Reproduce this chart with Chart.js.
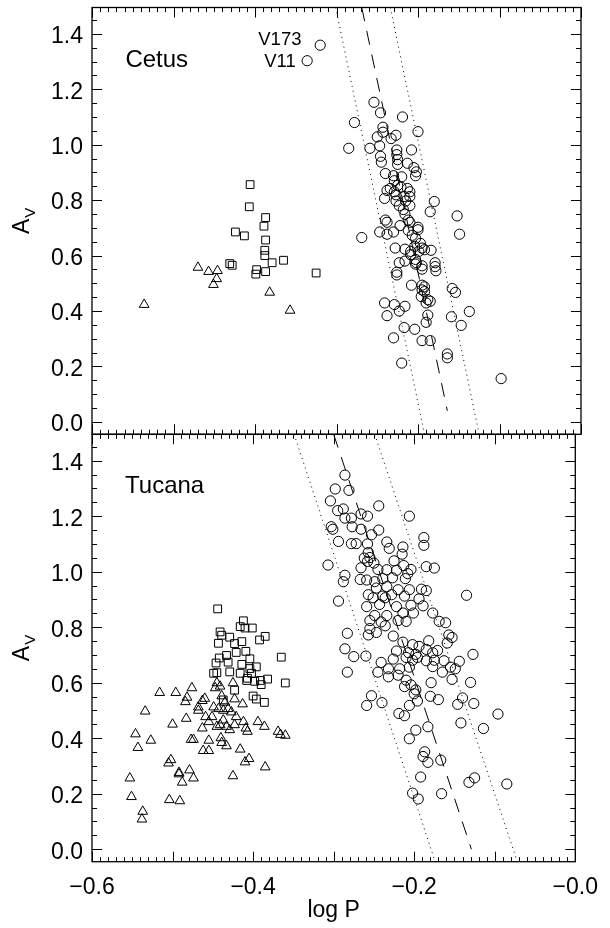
<!DOCTYPE html>
<html>
<head>
<meta charset="utf-8">
<title>Bailey diagram - Cetus / Tucana</title>
<script src="https://cdn.jsdelivr.net/npm/chart.js@4.4.1/dist/chart.umd.min.js"></script>
<style>
  html, body { margin: 0; padding: 0; background: #fff; }
  #wrap { position: relative; width: 610px; height: 928px; }
  #wrap canvas { position: absolute; left: 0; top: 0; }
</style>
</head>
<body>
<div id="wrap">
  <canvas id="cetusChart" width="610" height="928"></canvas>
  <canvas id="tucanaChart" width="610" height="928"></canvas>
</div>
<script>
// Period-amplitude (Bailey) diagrams, two stacked panels sharing log P

const xTickValues = [-0.6, -0.4, -0.2, 0.0];
const yTickValues = [0.0, 0.2, 0.4, 0.6, 0.8, 1.0, 1.2, 1.4];

// Cetus: [log P, A_V]
const rrabCetus = [
    [-0.320, 1.359], [-0.336, 1.303],
    [-0.254, 1.153], [-0.246, 1.115], [-0.278, 1.080], [-0.219, 1.100], [-0.200, 1.047],
    [-0.285, 0.987], [-0.259, 0.987], [-0.247, 0.996], [-0.243, 1.063], [-0.243, 1.045],
    [-0.250, 1.028], [-0.233, 1.022], [-0.227, 1.034], [-0.246, 0.958], [-0.245, 0.937],
    [-0.226, 0.981], [-0.226, 0.964], [-0.225, 0.946], [-0.225, 0.929], [-0.208, 0.981],
    [-0.213, 0.933], [-0.205, 0.917], [-0.203, 0.888], [-0.202, 0.902], [-0.240, 0.896],
    [-0.230, 0.888], [-0.229, 0.870], [-0.220, 0.884], [-0.225, 0.853], [-0.221, 0.847],
    [-0.238, 0.835], [-0.234, 0.842], [-0.229, 0.830], [-0.213, 0.842], [-0.210, 0.830],
    [-0.227, 0.819], [-0.217, 0.813], [-0.210, 0.813], [-0.241, 0.806], [-0.227, 0.797],
    [-0.215, 0.797], [-0.180, 0.795], [-0.185, 0.758], [-0.152, 0.743], [-0.223, 0.780],
    [-0.218, 0.766], [-0.210, 0.780], [-0.216, 0.749],
    [-0.240, 0.728], [-0.238, 0.720], [-0.212, 0.728], [-0.210, 0.720], [-0.222, 0.708],
    [-0.200, 0.702], [-0.200, 0.693], [-0.269, 0.665], [-0.247, 0.685], [-0.238, 0.677],
    [-0.230, 0.685], [-0.212, 0.691], [-0.207, 0.673], [-0.203, 0.662], [-0.197, 0.644],
    [-0.204, 0.633], [-0.195, 0.627], [-0.199, 0.615], [-0.192, 0.621], [-0.184, 0.619],
    [-0.149, 0.677], [-0.228, 0.627], [-0.216, 0.623], [-0.209, 0.615], [-0.209, 0.603],
    [-0.223, 0.574], [-0.216, 0.580], [-0.203, 0.586], [-0.203, 0.569], [-0.202, 0.574],
    [-0.195, 0.563], [-0.195, 0.551], [-0.226, 0.540], [-0.226, 0.530], [-0.179, 0.574],
    [-0.179, 0.560], [-0.178, 0.545], [-0.208, 0.493], [-0.195, 0.493], [-0.192, 0.487],
    [-0.195, 0.476], [-0.192, 0.470], [-0.196, 0.452], [-0.188, 0.441], [-0.185, 0.435],
    [-0.190, 0.429], [-0.158, 0.481], [-0.154, 0.467], [-0.241, 0.429], [-0.229, 0.423],
    [-0.216, 0.417], [-0.223, 0.400], [-0.238, 0.383], [-0.188, 0.385], [-0.159, 0.379],
    [-0.137, 0.398], [-0.147, 0.348], [-0.217, 0.340], [-0.204, 0.334], [-0.190, 0.359],
    [-0.230, 0.303], [-0.195, 0.293], [-0.185, 0.293], [-0.164, 0.245], [-0.164, 0.231],
    [-0.220, 0.212], [-0.098, 0.156]
];
const rrdCetus = [
    [-0.406, 0.856], [-0.407, 0.776], [-0.387, 0.737], [-0.424, 0.685], [-0.413, 0.671],
    [-0.389, 0.706], [-0.387, 0.656], [-0.388, 0.619], [-0.388, 0.600], [-0.431, 0.571],
    [-0.428, 0.565], [-0.398, 0.549], [-0.399, 0.533], [-0.387, 0.542], [-0.379, 0.574],
    [-0.365, 0.583], [-0.325, 0.537]
];
const rrcCetus = [
    [-0.536, 0.423], [-0.470, 0.557], [-0.457, 0.542], [-0.446, 0.545], [-0.447, 0.516],
    [-0.451, 0.495], [-0.382, 0.467], [-0.357, 0.402]
];
// fitted relation and its +/- band, given by end points
const cetusFit = [[-0.269, 1.495], [-0.164, 0.040]];
const cetusFitLo = [[-0.301, 1.495], [-0.192, -0.045]];
const cetusFitHi = [[-0.234, 1.495], [-0.125, -0.045]];

// Tucana: [log P, A_V]
const rrabTucana = [
    [-0.286, 1.348], [-0.298, 1.298], [-0.281, 1.293], [-0.304, 1.255], [-0.244, 1.237],
    [-0.206, 1.200], [-0.295, 1.220], [-0.288, 1.226], [-0.286, 1.193], [-0.278, 1.193],
    [-0.266, 1.208], [-0.258, 1.200], [-0.303, 1.162], [-0.301, 1.153], [-0.277, 1.162],
    [-0.266, 1.153], [-0.244, 1.150], [-0.188, 1.123], [-0.253, 1.133],
    [-0.294, 1.109], [-0.278, 1.101], [-0.272, 1.101], [-0.258, 1.100], [-0.234, 1.107],
    [-0.231, 1.084], [-0.214, 1.089], [-0.188, 1.095], [-0.257, 1.069], [-0.255, 1.051],
    [-0.262, 1.049], [-0.258, 1.037], [-0.250, 1.031], [-0.225, 1.039], [-0.215, 1.063],
    [-0.213, 1.022], [-0.307, 1.024], [-0.266, 1.014], [-0.245, 1.008], [-0.234, 1.007],
    [-0.222, 1.005], [-0.204, 1.008], [-0.185, 1.018], [-0.175, 1.013], [-0.286, 0.987],
    [-0.288, 0.964], [-0.267, 0.972], [-0.259, 0.970], [-0.249, 0.964], [-0.239, 0.975],
    [-0.227, 0.978], [-0.211, 0.975], [-0.208, 0.993], [-0.247, 0.941], [-0.234, 0.946],
    [-0.220, 0.935], [-0.206, 0.935], [-0.191, 0.937], [-0.185, 0.932], [-0.257, 0.917],
    [-0.239, 0.912], [-0.236, 0.906], [-0.251, 0.906], [-0.212, 0.912], [-0.228, 0.917],
    [-0.294, 0.894], [-0.259, 0.874], [-0.243, 0.882], [-0.222, 0.874], [-0.204, 0.879],
    [-0.194, 0.902], [-0.189, 0.877], [-0.135, 0.915], [-0.249, 0.842], [-0.234, 0.842],
    [-0.214, 0.851], [-0.201, 0.851], [-0.177, 0.851], [-0.255, 0.824], [-0.241, 0.819],
    [-0.220, 0.824], [-0.210, 0.821], [-0.169, 0.821], [-0.161, 0.816], [-0.255, 0.795],
    [-0.247, 0.781], [-0.236, 0.805], [-0.257, 0.772], [-0.283, 0.778], [-0.226, 0.768],
    [-0.157, 0.772], [-0.153, 0.763], [-0.159, 0.743], [-0.214, 0.746], [-0.202, 0.737],
    [-0.182, 0.751], [-0.194, 0.731], [-0.286, 0.722], [-0.275, 0.694], [-0.260, 0.696],
    [-0.222, 0.714], [-0.207, 0.708], [-0.198, 0.702], [-0.185, 0.720], [-0.177, 0.708],
    [-0.171, 0.716], [-0.127, 0.702], [-0.241, 0.673], [-0.226, 0.685], [-0.210, 0.691],
    [-0.202, 0.681], [-0.196, 0.691], [-0.185, 0.679], [-0.175, 0.681], [-0.163, 0.679],
    [-0.144, 0.677], [-0.283, 0.638], [-0.245, 0.638], [-0.232, 0.650], [-0.218, 0.650],
    [-0.206, 0.656], [-0.177, 0.658], [-0.165, 0.638], [-0.155, 0.656], [-0.149, 0.650],
    [-0.232, 0.621], [-0.220, 0.627], [-0.210, 0.609], [-0.204, 0.592], [-0.212, 0.586],
    [-0.198, 0.574], [-0.179, 0.600], [-0.153, 0.612], [-0.130, 0.601], [-0.253, 0.553],
    [-0.259, 0.518], [-0.240, 0.528], [-0.200, 0.560], [-0.180, 0.551], [-0.170, 0.539],
    [-0.140, 0.545], [-0.146, 0.522], [-0.126, 0.525], [-0.196, 0.534], [-0.206, 0.518],
    [-0.219, 0.489], [-0.212, 0.481], [-0.096, 0.487], [-0.142, 0.455], [-0.183, 0.441],
    [-0.198, 0.429], [-0.114, 0.435],
    [-0.206, 0.398], [-0.187, 0.351], [-0.189, 0.334], [-0.183, 0.313], [-0.167, 0.321],
    [-0.192, 0.260], [-0.202, 0.202], [-0.195, 0.181], [-0.166, 0.200], [-0.132, 0.241],
    [-0.125, 0.257], [-0.085, 0.235]
];
const rrdTucana = [
    [-0.444, 0.866], [-0.412, 0.823], [-0.416, 0.802], [-0.410, 0.797], [-0.401, 0.797],
    [-0.385, 0.767], [-0.392, 0.754], [-0.441, 0.783], [-0.439, 0.771], [-0.443, 0.742],
    [-0.423, 0.741], [-0.414, 0.748], [-0.429, 0.764], [-0.409, 0.713], [-0.404, 0.686],
    [-0.396, 0.657], [-0.421, 0.709], [-0.433, 0.698], [-0.442, 0.689], [-0.446, 0.671],
    [-0.431, 0.674], [-0.414, 0.666], [-0.404, 0.651], [-0.402, 0.634], [-0.407, 0.616],
    [-0.449, 0.634], [-0.445, 0.636], [-0.416, 0.634], [-0.408, 0.608], [-0.398, 0.605],
    [-0.391, 0.608], [-0.382, 0.613], [-0.390, 0.593], [-0.360, 0.599], [-0.365, 0.692],
    [-0.429, 0.639], [-0.423, 0.573], [-0.400, 0.552], [-0.396, 0.541], [-0.386, 0.529],
    [-0.437, 0.538]
];
const rrcTucana = [
    [-0.516, 0.564], [-0.496, 0.564], [-0.476, 0.581], [-0.482, 0.547], [-0.484, 0.531],
    [-0.460, 0.543], [-0.463, 0.535], [-0.468, 0.512], [-0.468, 0.500], [-0.459, 0.477],
    [-0.449, 0.512], [-0.447, 0.581], [-0.445, 0.599], [-0.441, 0.587], [-0.425, 0.599],
    [-0.423, 0.541], [-0.413, 0.523], [-0.439, 0.552], [-0.435, 0.529], [-0.443, 0.506],
    [-0.437, 0.500], [-0.431, 0.506], [-0.427, 0.494], [-0.421, 0.477], [-0.437, 0.465],
    [-0.441, 0.448], [-0.445, 0.442], [-0.433, 0.442], [-0.429, 0.430], [-0.423, 0.448],
    [-0.412, 0.459], [-0.409, 0.436], [-0.407, 0.424], [-0.394, 0.459], [-0.386, 0.442],
    [-0.369, 0.424], [-0.366, 0.413], [-0.360, 0.410], [-0.451, 0.477], [-0.455, 0.459],
    [-0.463, 0.436], [-0.534, 0.497], [-0.500, 0.450], [-0.483, 0.471], [-0.546, 0.415],
    [-0.527, 0.392], [-0.543, 0.366], [-0.477, 0.395], [-0.474, 0.395], [-0.455, 0.392],
    [-0.462, 0.355], [-0.455, 0.355], [-0.440, 0.401], [-0.439, 0.384], [-0.433, 0.372],
    [-0.416, 0.360], [-0.410, 0.314], [-0.405, 0.326], [-0.385, 0.296], [-0.502, 0.322],
    [-0.505, 0.310], [-0.492, 0.276], [-0.492, 0.271], [-0.479, 0.285], [-0.474, 0.256],
    [-0.488, 0.241], [-0.425, 0.264], [-0.553, 0.256], [-0.551, 0.189], [-0.504, 0.178],
    [-0.491, 0.174], [-0.537, 0.136], [-0.538, 0.108]
];
const tucanaFit = [[-0.300, 1.495], [-0.129, 0.000]];
const tucanaFitLo = [[-0.349, 1.495], [-0.174, -0.045]];
const tucanaFitHi = [[-0.249, 1.495], [-0.072, -0.045]];

const X_MIN = -0.6, X_MAX = 0.0;
const Y_MIN = -0.045, Y_MAX = 1.495;
const FONT = '"Liberation Sans", Arial, Helvetica, sans-serif';

Chart.defaults.font.family = FONT;
Chart.defaults.color = '#000';

function toPoints(arr) {
    return arr.map(p => ({ x: p[0], y: p[1] }));
}

function markerSet(label, arr, style, radius) {
    return {
        label: label,
        data: toPoints(arr),
        pointStyle: style,
        pointRadius: radius,
        pointHoverRadius: radius,
        borderColor: '#000',
        backgroundColor: 'rgba(0,0,0,0)',
        borderWidth: 1,
        showLine: false
    };
}

function fitLine(label, arr, dash) {
    return {
        label: label,
        data: toPoints(arr),
        showLine: true,
        pointRadius: 0,
        borderColor: '#000',
        borderWidth: 1,
        borderDash: dash,
        fill: false
    };
}

// inward tick marks on all four sides, box, and panel text
const framePlugin = {
    id: 'panelFrame',
    afterDraw(chart, args, opts) {
        const ctx = chart.ctx;
        const a = chart.chartArea;
        const xs = chart.scales.x;
        const ys = chart.scales.y;
        ctx.save();
        ctx.strokeStyle = '#000';
        ctx.lineWidth = 1;
        ctx.beginPath();
        for (let i = 0; i <= 60; i++) {
            const px = Math.round(xs.getPixelForValue(X_MIN + i * 0.01)) + 0.5;
            const len = i % 10 === 0 ? 10 : 4.5;
            ctx.moveTo(px, a.top);
            ctx.lineTo(px, a.top + len);
            ctx.moveTo(px, a.bottom);
            ctx.lineTo(px, a.bottom - len);
        }
        for (let i = 0; i * 0.05 <= Y_MAX; i++) {
            const py = Math.round(ys.getPixelForValue(i * 0.05)) + 0.5;
            const len = i % 4 === 0 ? 10 : 5;
            ctx.moveTo(a.left, py);
            ctx.lineTo(a.left + len, py);
            ctx.moveTo(a.right, py);
            ctx.lineTo(a.right - len, py);
        }
        ctx.stroke();
        ctx.lineWidth = 1.3;
        ctx.strokeRect(a.left, a.top, a.right - a.left, a.bottom - a.top);

        ctx.fillStyle = '#000';
        ctx.textBaseline = 'middle';
        (opts.notes || []).forEach(n => {
            ctx.font = n.size + 'px ' + FONT;
            ctx.textAlign = n.align;
            ctx.fillText(n.text, xs.getPixelForValue(n.x), ys.getPixelForValue(n.y));
        });

        // y title: A with subscript V, rotated
        ctx.translate(29, (a.top + a.bottom) / 2);
        ctx.rotate(-Math.PI / 2);
        ctx.textBaseline = 'alphabetic';
        ctx.textAlign = 'left';
        ctx.font = '23px ' + FONT;
        const wA = ctx.measureText('A').width;
        ctx.font = '15px ' + FONT;
        const wV = ctx.measureText('V').width;
        const start = -(wA + wV + 1) / 2;
        ctx.font = '23px ' + FONT;
        ctx.fillText('A', start, 0);
        ctx.font = '15px ' + FONT;
        ctx.fillText('V', start + wA + 1, 6);
        ctx.restore();
    }
};

function panelOptions(padding, showX, notes) {
    return {
        responsive: false,
        animation: false,
        events: [],
        layout: { padding: padding },
        plugins: {
            legend: { display: false },
            tooltip: { enabled: false },
            panelFrame: { notes: notes }
        },
        scales: {
            x: {
                type: 'linear',
                min: X_MIN,
                max: X_MAX,
                display: showX,
                grid: { display: false, drawTicks: false },
                border: { display: false },
                afterBuildTicks: function(scale) {
                    scale.ticks = xTickValues.map(v => ({ value: v }));
                },
                afterFit: function(scale) {
                    scale.height = showX ? 66.3 : 0;
                },
                ticks: {
                    padding: 12,
                    maxRotation: 0,
                    autoSkip: false,
                    font: { size: 23 },
                    callback: function(value) {
                        return (value <= 0 ? '\u2212' : '') + Math.abs(value).toFixed(1);
                    }
                },
                title: {
                    display: true,
                    text: 'log P',
                    font: { size: 23 },
                    padding: { top: 0, bottom: 4 }
                }
            },
            y: {
                type: 'linear',
                min: Y_MIN,
                max: Y_MAX,
                grid: { display: false, drawTicks: false },
                border: { display: false },
                afterBuildTicks: function(scale) {
                    scale.ticks = yTickValues.map(v => ({ value: v }));
                },
                afterFit: function(scale) {
                    scale.width = 92;
                    scale.paddingTop = 0;
                    scale.paddingBottom = 0;
                },
                ticks: {
                    padding: 9,
                    labelOffset: 3,
                    autoSkip: false,
                    font: { size: 23 },
                    callback: function(value) {
                        return value.toFixed(1);
                    }
                }
            }
        }
    };
}

new Chart(document.getElementById('cetusChart'), {
    type: 'scatter',
    data: {
        datasets: [
            fitLine('fit', cetusFit, [14, 10]),
            fitLine('fit - band', cetusFitLo, [1, 4]),
            fitLine('fit + band', cetusFitHi, [1, 4]),
            markerSet('RRab', rrabCetus, 'circle', 5.1),
            markerSet('RRd', rrdCetus, 'rect', 5.5),
            markerSet('RRc', rrcCetus, 'triangle', 5.6)
        ]
    },
    options: panelOptions({ top: 7.5, bottom: 493.7, left: 0, right: 29 }, false, [
        { text: 'Cetus', x: -0.559, y: 1.303, size: 24, align: 'left' },
        { text: 'V173', x: -0.343, y: 1.379, size: 18.5, align: 'right' },
        { text: 'V11', x: -0.350, y: 1.298, size: 18.5, align: 'right' }
    ]),
    plugins: [framePlugin]
});

new Chart(document.getElementById('tucanaChart'), {
    type: 'scatter',
    data: {
        datasets: [
            fitLine('fit', tucanaFit, [14, 10]),
            fitLine('fit - band', tucanaFitLo, [1, 4]),
            fitLine('fit + band', tucanaFitHi, [1, 4]),
            markerSet('RRab', rrabTucana, 'circle', 5.1),
            markerSet('RRd', rrdTucana, 'rect', 5.5),
            markerSet('RRc', rrcTucana, 'triangle', 5.6)
        ]
    },
    options: panelOptions({ top: 434.3, bottom: 0, left: 0, right: 29 }, true, [
        { text: 'Tucana', x: -0.559, y: 1.307, size: 24, align: 'left' }
    ]),
    plugins: [framePlugin]
});
</script>
</body>
</html>
